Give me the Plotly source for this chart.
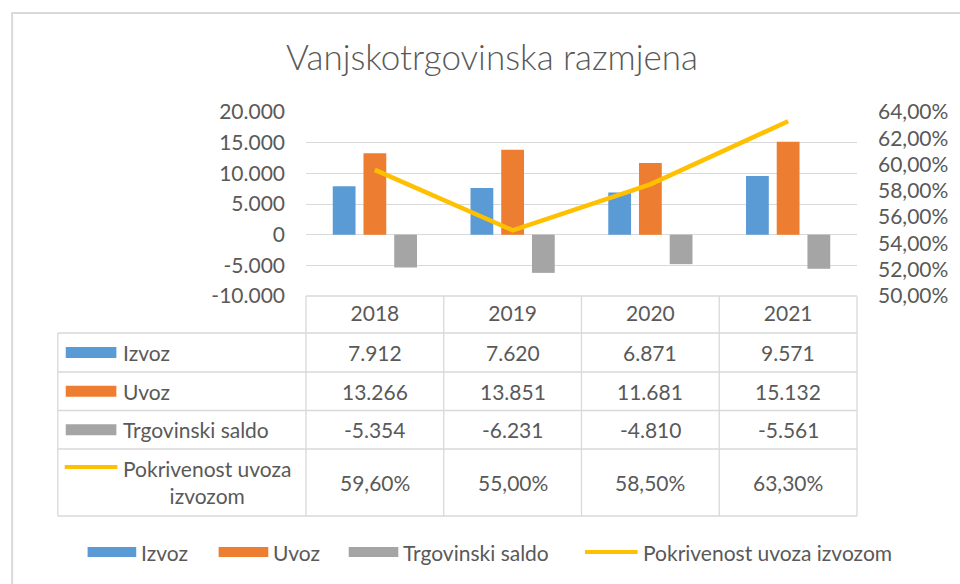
import plotly.graph_objects as go

# ---------------- data ----------------
years = ["2018", "2019", "2020", "2021"]
izvoz = [7912, 7620, 6871, 9571]
uvoz = [13266, 13851, 11681, 15132]
saldo = [-5354, -6231, -4810, -5561]
pokrivenost = [59.60, 55.00, 58.50, 63.30]  # percent

series_names = ["Izvoz", "Uvoz", "Trgovinski saldo", "Pokrivenost uvoza izvozom"]
table_row_labels = ["Izvoz", "Uvoz", "Trgovinski saldo", "Pokrivenost uvoza<br>izvozom"]
title_text = "Vanjskotrgovinska razmjena"

left_tick_vals = [20000, 15000, 10000, 5000, 0, -5000, -10000]
left_tick_text = ["20.000", "15.000", "10.000", "5.000", "0", "-5.000", "-10.000"]
right_tick_vals = [0.64, 0.62, 0.60, 0.58, 0.56, 0.54, 0.52, 0.50]
right_tick_text = ["64,00%", "62,00%", "60,00%", "58,00%", "56,00%", "54,00%", "52,00%", "50,00%"]

# ---------------- styles ----------------
C_BLUE = "#5B9BD5"
C_ORANGE = "#ED7D31"
C_GRAY = "#A5A5A5"
C_YELLOW = "#FFC000"
C_TEXT = "#595959"
C_GRID = "#D9D9D9"
FONT = "Lato"
FS = 21

W, H = 960, 584
PL, PR, PT, PB = 306, 861, 112, 296


def X(px):
    return (px - PL) / (PR - PL)


def Y(py):
    return (PB - py) / (PB - PT)


def fmt_int(v):
    s = f"{abs(v):,}".replace(",", ".")
    return ("-" if v < 0 else "") + s


def fmt_pct(v):
    return f"{v:.2f}".replace(".", ",") + "%"


def tfont(size=FS, weight=400):
    return dict(family=FONT, size=size, color=C_TEXT, weight=weight)


fig = go.Figure()
fig.add_trace(go.Bar(x=years, y=izvoz, name=series_names[0], marker_color=C_BLUE,
                     marker_line_width=0, showlegend=False))
fig.add_trace(go.Bar(x=years, y=uvoz, name=series_names[1], marker_color=C_ORANGE,
                     marker_line_width=0, showlegend=False))
fig.add_trace(go.Bar(x=years, y=saldo, name=series_names[2], marker_color=C_GRAY,
                     marker_line_width=0, showlegend=False))
fig.add_trace(go.Scatter(x=years, y=[p / 100 for p in pokrivenost], name=series_names[3],
                         mode="lines", line=dict(color=C_YELLOW, width=4.5),
                         yaxis="y2", showlegend=False))

shapes = []
annotations = []

# chart frame
shapes.append(dict(type="rect", xref="paper", yref="paper",
                   x0=X(10), x1=X(980), y0=Y(13), y1=Y(610),
                   line=dict(color=C_GRID, width=2), fillcolor="rgba(0,0,0,0)", layer="below"))

# ---------------- data table ----------------
row_bounds = [333, 372, 410.5, 449, 516]
shapes.append(dict(type="line", xref="paper", yref="paper", x0=X(PL), x1=X(PR),
                   y0=Y(296), y1=Y(296), line=dict(color=C_GRID, width=1.3)))
for yb in row_bounds:
    shapes.append(dict(type="line", xref="paper", yref="paper", x0=X(56), x1=X(PR),
                       y0=Y(yb), y1=Y(yb), line=dict(color=C_GRID, width=1.3)))
shapes.append(dict(type="line", xref="paper", yref="paper", x0=X(56), x1=X(56),
                   y0=Y(333), y1=Y(516), line=dict(color=C_GRID, width=1.3)))
ncat = len(years)
for i in range(ncat + 1):
    xb = i / ncat
    shapes.append(dict(type="line", xref="paper", yref="paper", x0=xb, x1=xb,
                       y0=Y(296), y1=Y(516), line=dict(color=C_GRID, width=1.3)))

row_centers = [(row_bounds[i] + row_bounds[i + 1]) / 2 for i in range(4)]
row_values = [[fmt_int(v) for v in izvoz], [fmt_int(v) for v in uvoz],
              [fmt_int(v) for v in saldo], [fmt_pct(v) for v in pokrivenost]]
key_colors = [C_BLUE, C_ORANGE, C_GRAY]

for r in range(4):
    yc = row_centers[r]
    for i, val in enumerate(row_values[r]):
        annotations.append(dict(x=i, xref="x", y=Y(yc), yref="paper", text=val,
                                showarrow=False, xanchor="center", yanchor="middle",
                                font=tfont()))
    if r < 3:
        shapes.append(dict(type="rect", xref="paper", yref="paper", x0=X(64), x1=X(115),
                           y0=Y(yc - 5.5), y1=Y(yc + 5.5), fillcolor=key_colors[r],
                           line=dict(width=0)))
        annotations.append(dict(x=X(120), xref="paper", y=Y(yc), yref="paper",
                                text=table_row_labels[r], showarrow=False, xanchor="left",
                                yanchor="middle", align="left", font=tfont()))
    else:
        shapes.append(dict(type="line", xref="paper", yref="paper", x0=X(63), x1=X(116),
                           y0=Y(467), y1=Y(467), line=dict(color=C_YELLOW, width=4)))
        annotations.append(dict(x=X(120), xref="paper", y=Y(481.5), yref="paper",
                                text=table_row_labels[r], showarrow=False, xanchor="left",
                                yanchor="middle", align="center", font=tfont()))

# ---------------- bottom legend ----------------
leg_y = 552
leg_items = [(86, 135, "bar", C_BLUE, series_names[0]),
             (218, 268, "bar", C_ORANGE, series_names[1]),
             (349, 399, "bar", C_GRAY, series_names[2]),
             (587, 640, "line", C_YELLOW, series_names[3])]
for x0, x1, kind, col, name in leg_items:
    if kind == "bar":
        shapes.append(dict(type="rect", xref="paper", yref="paper", x0=X(x0), x1=X(x1),
                           y0=Y(leg_y - 5), y1=Y(leg_y + 5), fillcolor=col, line=dict(width=0)))
    else:
        shapes.append(dict(type="line", xref="paper", yref="paper", x0=X(x0), x1=X(x1),
                           y0=Y(leg_y), y1=Y(leg_y), line=dict(color=col, width=4)))
    annotations.append(dict(x=X(x1 + 3), xref="paper", y=Y(leg_y), yref="paper", text=name,
                            showarrow=False, xanchor="left", yanchor="middle", font=tfont()))

fig.update_layout(
    width=W, height=H,
    margin=dict(l=PL, r=W - PR, t=PT, b=H - PB, pad=0),
    paper_bgcolor="white", plot_bgcolor="white",
    barmode="group", bargap=0.331, bargroupgap=0.258,
    separators=",.",
    title=dict(text=title_text, x=492 / W, xref="container", xanchor="center",
               y=1 - 58 / H, yref="container", yanchor="middle", font=tfont(35, 300)),
    xaxis=dict(type="category", range=[-0.5, ncat - 0.5], showgrid=False, zeroline=False,
               showline=False, ticks="", tickfont=tfont(),
               ticklabelstandoff=3, fixedrange=True),
    yaxis=dict(range=[-10000, 20000], tickvals=left_tick_vals, ticktext=left_tick_text,
               showgrid=True, gridcolor=C_GRID, gridwidth=1.3, zeroline=False, showline=False,
               ticks="", tickfont=tfont(), ticklabelstandoff=20, fixedrange=True),
    yaxis2=dict(range=[0.50, 0.64], tickvals=right_tick_vals, ticktext=right_tick_text,
                overlaying="y", side="right", showgrid=False, zeroline=False, showline=False,
                ticks="", tickfont=tfont(), ticklabelstandoff=20, fixedrange=True),
    shapes=shapes,
    annotations=annotations,
    showlegend=False,
)

fig.write_html("out.html", config={"displayModeBar": False},
               post_script="document.body.style.margin='0';")
